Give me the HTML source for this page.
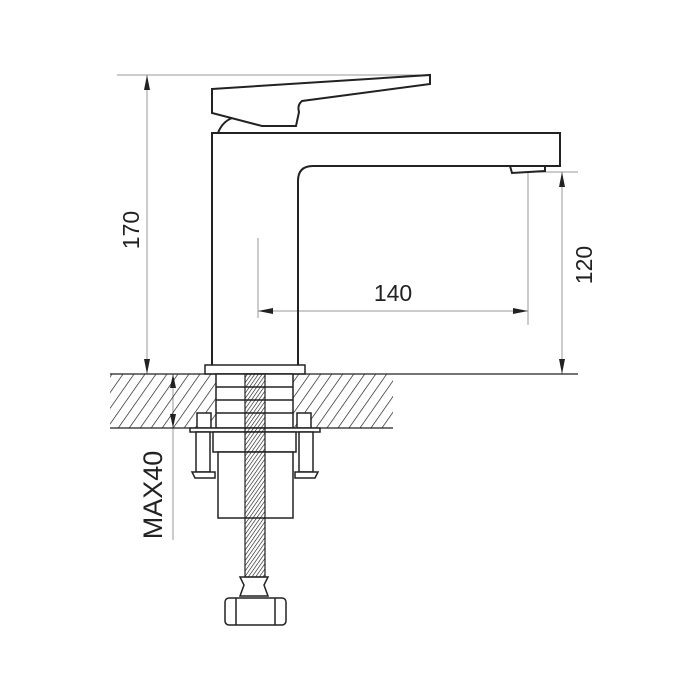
<!DOCTYPE html>
<html><head><style>html,body{margin:0;padding:0;background:#fff}svg{display:block}</style></head>
<body>
<svg width="700" height="700" viewBox="0 0 700 700" xmlns="http://www.w3.org/2000/svg">
<defs>
<pattern id="h" patternUnits="userSpaceOnUse" width="9" height="9" patternTransform="rotate(35)">
<line x1="0" y1="0" x2="0" y2="9" stroke="#111" stroke-width="1.3"/>
</pattern>
<pattern id="t" patternUnits="userSpaceOnUse" width="3" height="3" patternTransform="rotate(35)">
<line x1="0" y1="0" x2="0" y2="3" stroke="#111" stroke-width="1.2"/>
</pattern>
</defs>
<g fill="none" stroke="#999" stroke-width="1">
<line x1="117" y1="75" x2="430" y2="75"/>
<line x1="147" y1="75" x2="147" y2="374"/>
<line x1="528" y1="172" x2="578" y2="172"/>
<line x1="562" y1="172" x2="562" y2="374"/>
<line x1="258" y1="238" x2="258" y2="318"/>
<line x1="528" y1="172" x2="528" y2="325"/>
<line x1="258" y1="311" x2="528" y2="311"/>
<line x1="173" y1="374" x2="173" y2="540"/>
</g>
<g fill="#222">
<polygon points="147,75 144,90 150,90"/>
<polygon points="147,374 144,359 150,359"/>
<polygon points="562,172 559,187 565,187"/>
<polygon points="562,374 559,359 565,359"/>
<polygon points="258,311 273,308 273,314"/>
<polygon points="528,311 513,308 513,314"/>
<polygon points="173,374 170,388 176,388"/>
<polygon points="173,428 170,414 176,414"/>
</g>
<rect x="110" y="374" width="106" height="54" fill="url(#h)"/>
<rect x="293" y="374" width="100" height="54" fill="url(#h)"/>
<line x1="110" y1="374" x2="578" y2="374" stroke="#222" stroke-width="1.3"/>
<line x1="110" y1="428" x2="393" y2="428" stroke="#222" stroke-width="1.3"/>
<g fill="none" stroke="#222" stroke-width="2">
<path d="M212,89 L430,75 L430,84 L302,101 Q297,105 299,112 L296,126 L262,126 L212,113 Z"/>
<path d="M218,133 Q222,122 232,118"/>
<path d="M212,365 L212,133 L560,133 L560,166 L313,166 Q298,166 298,181 L298,365"/>
<path d="M510,166 L512,173 L545,171 L545,166"/>
<rect x="205" y="365" width="100" height="9" stroke-width="1.5"/>
</g>
<g fill="#fff" stroke="#222" stroke-width="1.5">
<rect x="216" y="374" width="77" height="54"/>
<line x1="216" y1="387" x2="293" y2="387"/>
<line x1="216" y1="400" x2="293" y2="400"/>
<line x1="216" y1="413" x2="293" y2="413"/>
<rect x="197" y="413" width="14" height="15"/>
<rect x="297" y="413" width="14" height="15"/>
<rect x="190" y="428" width="130" height="4"/>
<rect x="213" y="432" width="83" height="20"/>
<rect x="196" y="432" width="14" height="40"/>
<rect x="299" y="432" width="14" height="40"/>
<path d="M192,472 L215,472 L215,478 L195,478 Z"/>
<path d="M295,472 L318,472 L315,478 L295,478 Z"/>
<rect x="218" y="452" width="75" height="66"/>
<path d="M240,577 L268,577 L264,585 L268,596 L240,596 L244,585 Z"/>
<rect x="225" y="598" width="61" height="27" rx="4"/>
<line x1="236" y1="598" x2="236" y2="625"/>
<line x1="275" y1="598" x2="275" y2="625"/>
</g>
<rect x="245" y="374" width="20" height="203" fill="url(#t)" stroke="#222" stroke-width="1.2"/>
<g font-family="Liberation Sans, sans-serif" fill="#222">
<text x="393" y="301" font-size="23" text-anchor="middle">140</text>
<text transform="translate(139,230) rotate(-90)" font-size="23" text-anchor="middle">170</text>
<text transform="translate(592,265) rotate(-90)" font-size="23" text-anchor="middle">120</text>
<text transform="translate(162,495) rotate(-90)" font-size="27" text-anchor="middle">MAX40</text>
</g>
</svg>
</body></html>
